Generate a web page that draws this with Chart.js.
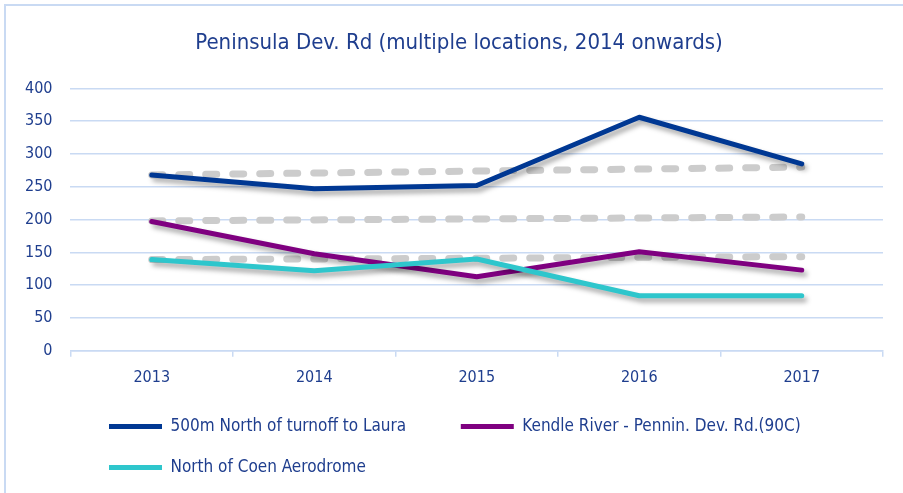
<!DOCTYPE html>
<html>
<head>
<meta charset="utf-8">
<title>Peninsula Dev. Rd</title>
<script src="https://cdn.jsdelivr.net/npm/chart.js@4.4.1/dist/chart.umd.min.js"></script>
<style>
  html, body { margin: 0; padding: 0; background: #fff; }
  #wrap { position: relative; width: 903px; height: 493px; overflow: hidden; }
  #frame { position: absolute; left: 4px; top: 4px; width: 980px; height: 600px;
           border-left: 2px solid #C9DAF3; border-top: 2px solid #C9DAF3; }
  #chart { position: absolute; left: 0; top: 0; }
</style>
</head>
<body>
<div id="wrap">
  <div id="frame"></div>
  <canvas id="chart" width="903" height="493"></canvas>
</div>
<script>
// Categories and series
const years = ["2013", "2014", "2015", "2016", "2017"];
const laura = [268, 247, 252, 356, 285];
const kendle = [197, 148, 113, 151, 123];
const coen = [139, 122, 140, 84, 84];

// Dashed reference lines behind each site
const lauraTrend = [268, 271, 274, 277, 280];
const kendleTrend = [198, 199.5, 201, 202.5, 204];
const coenTrend = [139, 140, 141, 142.5, 143.5];

// Value axis
const yMin = 0;
const yMax = 400;
const yStep = 50;

const navy = "#1F3E8E";
const gridBlue = "#C9DAF3";
const narrow = "'Liberation Sans Narrow', 'Arial Narrow', 'DejaVu Sans Condensed', sans-serif";

// Soft drop shadow under the solid lines
const lineShadow = {
    id: "lineShadow",
    beforeDatasetDraw(chart, args) {
        if (!chart.data.datasets[args.index].shadow) return;
        const ctx = chart.ctx;
        ctx.save();
        ctx.shadowColor = "rgba(0, 0, 0, 0.35)";
        ctx.shadowBlur = 5;
        ctx.shadowOffsetX = 3;
        ctx.shadowOffsetY = 4;
    },
    afterDatasetDraw(chart, args) {
        if (chart.data.datasets[args.index].shadow) chart.ctx.restore();
    }
};

// Nudge the title and the legend block into place
const blockShift = {
    id: "blockShift",
    afterLayout(chart) {
        const t = chart.titleBlock;
        t.left += 14;
        t.right += 14;
        const lg = chart.legend;
        lg.left += 78;
        lg.right += 78;
        lg.top -= 4;
        lg.bottom -= 4;
    }
};

function solid(label, data, color, order) {
    return {
        label: label,
        data: data,
        borderColor: color,
        backgroundColor: color,
        borderWidth: 5,
        borderCapStyle: "round",
        borderJoinStyle: "round",
        pointRadius: 0,
        pointHoverRadius: 0,
        tension: 0,
        order: order,
        shadow: true
    };
}

function dashed(label, data, order) {
    return {
        label: label,
        data: data,
        borderColor: "#CCCCCC",
        backgroundColor: "#CCCCCC",
        borderWidth: 7,
        borderDash: [11, 16],
        borderCapStyle: "round",
        pointRadius: 0,
        pointHoverRadius: 0,
        order: order,
        shadow: false
    };
}

new Chart(document.getElementById("chart"), {
    type: "line",
    data: {
        labels: years,
        datasets: [
            solid("500m North of turnoff to Laura", laura, "#003893", 3),
            solid("Kendle River - Pennin. Dev. Rd.(90C)", kendle, "#7F0080", 2),
            solid("North of Coen Aerodrome", coen, "#2EC6CC", 1),
            dashed("Trend 500m North of turnoff to Laura", lauraTrend, 4),
            dashed("Trend Kendle River", kendleTrend, 5),
            dashed("Trend North of Coen Aerodrome", coenTrend, 6)
        ]
    },
    options: {
        responsive: false,
        animation: false,
        layout: { padding: { left: 7, right: 20, top: 20, bottom: 3 } },
        plugins: {
            title: {
                display: true,
                text: "Peninsula Dev. Rd (multiple locations, 2014 onwards)",
                color: navy,
                font: { family: narrow, size: 22, weight: "normal" },
                padding: { top: 10, bottom: 32 }
            },
            legend: {
                position: "bottom",
                align: "start",
                labels: {
                    color: navy,
                    font: { family: narrow, size: 17 },
                    usePointStyle: true,
                    pointStyle: "line",
                    pointStyleWidth: 53,
                    padding: 24,
                    generateLabels(chart) {
                        const items = Chart.defaults.plugins.legend.labels.generateLabels(chart)
                            .filter(it => it.datasetIndex < 3)
                            .sort((a, b) => a.datasetIndex - b.datasetIndex);
                        items[0].text += "\u2002".repeat(4);
                        return items;
                    },
                    sort: (a, b) => a.datasetIndex - b.datasetIndex
                }
            },
            tooltip: { enabled: false }
        },
        scales: {
            x: {
                offset: true,
                grid: {
                    offset: true,
                    drawOnChartArea: false,
                    color: gridBlue,
                    lineWidth: 1.5,
                    tickLength: 6
                },
                border: { display: true, color: gridBlue, width: 1.5 },
                ticks: {
                    color: navy,
                    font: { family: narrow, size: 16 },
                    padding: 11
                }
            },
            y: {
                min: yMin,
                max: yMax,
                grid: { color: gridBlue, lineWidth: 1.5, drawTicks: false },
                border: { display: false },
                ticks: {
                    stepSize: yStep,
                    color: navy,
                    font: { family: narrow, size: 16 },
                    padding: 18
                }
            }
        }
    },
    plugins: [lineShadow, blockShift]
});
</script>
</body>
</html>
